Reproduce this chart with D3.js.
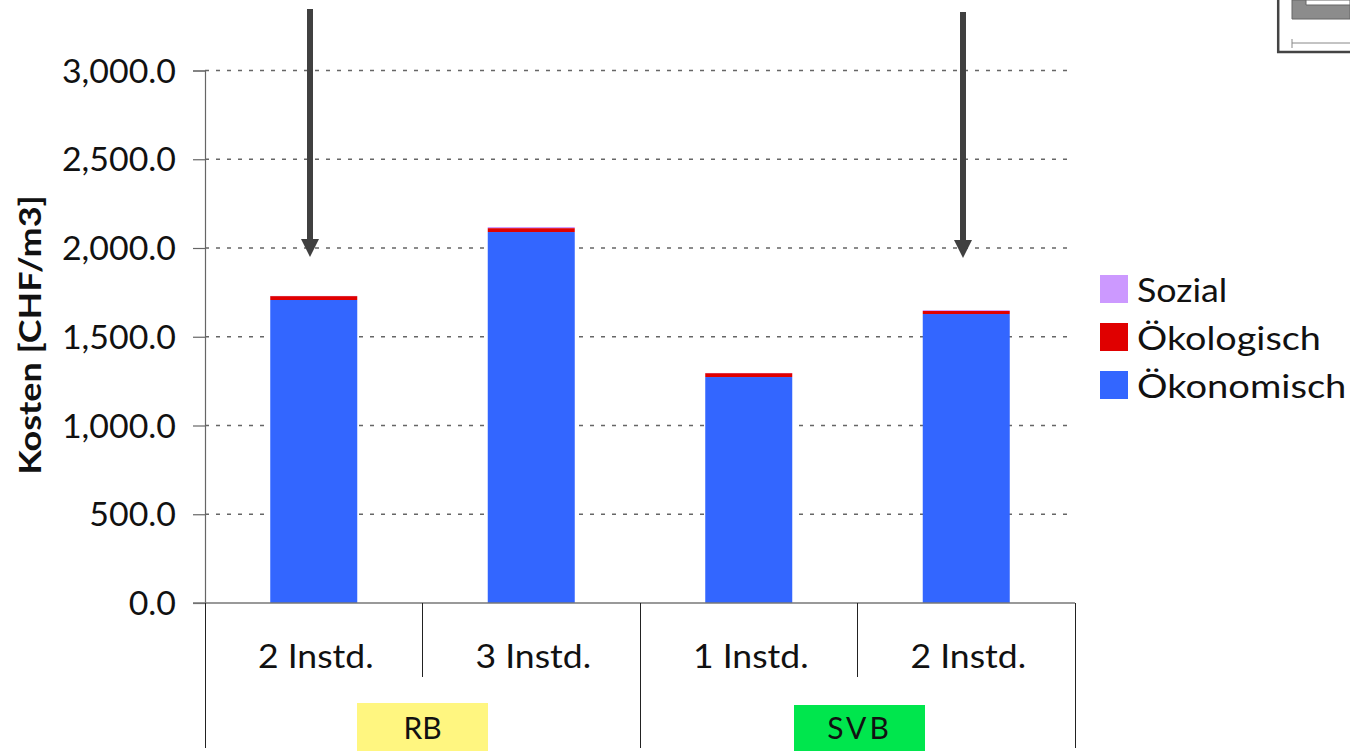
<!DOCTYPE html>
<html>
<head>
<meta charset="utf-8">
<script src="https://cdn.jsdelivr.net/npm/d3@7"></script>
<style>
  html, body { margin: 0; padding: 0; background: #fff; }
  svg { display: block; }
  text { font-family: Lato, "Open Sans", sans-serif; fill: #111; }
</style>
</head>
<body>
<svg id="chart"></svg>
<script>
const groups = ["RB", "SVB"];
const groupColors = ["#FFF680", "#00E64D"];
const categories = ["2 Instd.", "3 Instd.", "1 Instd.", "2 Instd."];
const oekonomisch = [1707, 2090, 1273, 1628];
const oekologisch = [22, 22, 22, 17];
const sozial = [1, 6, 1, 5];
const seriesNames = ["Sozial", "Ökologisch", "Ökonomisch"];
const seriesColors = ["#CC99FF", "#E00000", "#3366FF"];
const yTicks = [0, 500, 1000, 1500, 2000, 2500, 3000];
const arrowTargets = [0, 3];

const width = 1350, height = 751;
const margin = {top: 70.5, right: 275, bottom: 148, left: 205};
const plotW = width - margin.left - margin.right;
const plotH = height - margin.top - margin.bottom;

// the original face is wider than anything installed, so stretch text to its width
function stretch(sel, factor) {
    sel.each(function(d, i) {
        const f = typeof factor === "function" ? factor(d, i) : factor;
        const w = this.getComputedTextLength();
        d3.select(this).attr("textLength", w * f).attr("lengthAdjust", "spacingAndGlyphs");
    });
}

const svg = d3.select("#chart").attr("width", width).attr("height", height);
const chart = svg.append("g").attr("transform", `translate(${margin.left},${margin.top})`);

const x = d3.scaleBand().domain(d3.range(categories.length)).range([0, plotW]).paddingInner(0.6).paddingOuter(0.3);
const y = d3.scaleLinear().domain([0, 3000]).range([plotH, 0]);
const step = x.step();
const edge = i => i * step;
const fmt = d3.format(",.1f");

// gridlines
chart.selectAll(".grid").data(yTicks.slice(1)).join("line")
    .attr("class", "grid")
    .attr("x1", 0).attr("x2", plotW - 3)
    .attr("y1", d => y(d)).attr("y2", d => y(d))
    .attr("stroke", "#666").attr("stroke-width", 1.4).attr("stroke-dasharray", "4,7");

// stacked bars
const rows = categories.map((c, i) => ({i, "Ökonomisch": oekonomisch[i], "Ökologisch": oekologisch[i], "Sozial": sozial[i]}));
const stack = d3.stack().keys(["Ökonomisch", "Ökologisch", "Sozial"]);
const color = d3.scaleOrdinal().domain(seriesNames).range(seriesColors);

chart.selectAll(".layer").data(stack(rows)).join("g")
    .attr("class", "layer")
    .attr("fill", d => color(d.key))
    .selectAll("rect").data(d => d).join("rect")
    .attr("x", d => x(d.data.i))
    .attr("width", x.bandwidth())
    .attr("y", d => y(d[1]))
    .attr("height", d => y(d[0]) - y(d[1]));

// y axis
const yAxis = d3.axisLeft(y).tickValues(yTicks).tickSize(12).tickPadding(17).tickFormat(fmt);
chart.append("g").call(yAxis)
    .call(g => g.select(".domain").attr("stroke", "#666").attr("stroke-width", 1.2))
    .call(g => g.selectAll(".tick line").attr("stroke", "#666").attr("stroke-width", 1.2))
    .call(g => g.selectAll(".tick text")
        .attr("font-size", 32).attr("font-family", "Lato").attr("fill", "#111").attr("dy", "0.36em")
        .call(stretch, 1.06));

// baseline
chart.append("line")
    .attr("x1", -12).attr("x2", plotW).attr("y1", plotH).attr("y2", plotH)
    .attr("stroke", "#777").attr("stroke-width", 1.5);

// category separators
chart.selectAll(".sep").data(d3.range(categories.length + 1)).join("line")
    .attr("class", "sep")
    .attr("x1", edge).attr("x2", edge)
    .attr("y1", plotH)
    .attr("y2", d => d % 2 === 0 ? plotH + 145 : plotH + 74)
    .attr("stroke", "#222").attr("stroke-width", 1)
    .attr("shape-rendering", "crispEdges");

chart.selectAll(".cat").data(categories).join("text")
    .attr("class", "cat")
    .attr("x", (d, i) => edge(i) + step / 2 + 2)
    .attr("y", plotH + 65)
    .attr("text-anchor", "middle")
    .attr("font-size", 32)
    .text(d => d)
    .call(stretch, 1.11);

// group labels
const groupW = 131;
const groupG = chart.selectAll(".grp").data(groups).join("g").attr("class", "grp");
groupG.append("rect")
    .attr("x", (d, i) => edge(i * 2) + step - groupW / 2 + i * 2)
    .attr("y", (d, i) => plotH + 100 + i * 2)
    .attr("width", groupW)
    .attr("height", (d, i) => 48 - i * 2)
    .attr("fill", (d, i) => groupColors[i]);
groupG.append("text")
    .attr("x", (d, i) => edge(i * 2) + step + i * 2)
    .attr("y", plotH + 136)
    .attr("text-anchor", "middle")
    .attr("font-size", 30)
    .attr("letter-spacing", (d, i) => i ? 3 : 0)
    .text(d => d);

// y title
svg.append("text")
    .attr("transform", "translate(41,335) rotate(-90)")
    .attr("text-anchor", "middle")
    .attr("font-size", 31)
    .attr("font-weight", 700)
    .text("Kosten [CHF/m3]")
    .call(stretch, 1.16);

// legend
const legend = svg.selectAll(".legend").data(seriesNames).join("g")
    .attr("class", "legend")
    .attr("transform", (d, i) => `translate(1100,${275 + i * 48})`);
legend.append("rect").attr("width", 28).attr("height", 28).attr("fill", d => color(d));
legend.append("text").attr("x", 37).attr("y", 27).attr("font-size", 33).text(d => d)
    .call(stretch, (d, i) => [1.085, 1.145, 1.155][i]);

// arrows pointing at the two marked variants
const arrowTop = [9, 12], arrowTip = [257, 258], arrowX = [310, 963];
const arrows = svg.selectAll(".arrow").data(arrowTargets).join("g").attr("class", "arrow").attr("fill", "#404040");
arrows.append("path").attr("d", (d, i) => {
    const ax = arrowX[i], t = arrowTop[i], b = arrowTip[i];
    return d3.line()([[ax - 3, t], [ax + 3, t], [ax + 3, b - 18], [ax + 9, b - 18], [ax, b], [ax - 9, b - 18], [ax - 3, b - 18]]) + "Z";
});

// cropped inset drawing, top right
const inset = svg.append("g");
inset.append("path").attr("d", "M1278.2,0V52H1350").attr("fill", "none").attr("stroke", "#444").attr("stroke-width", 2.5);
inset.append("path").attr("d", "M1292,0H1350V19H1292Z").attr("fill", "#8c8c8c").attr("stroke", "#666");
inset.append("path").attr("d", "M1306,0H1350V5H1306Z").attr("fill", "#fff").attr("stroke", "#666");
inset.append("path").attr("d", "M1292,39V48M1292,43H1350").attr("fill", "none").attr("stroke", "#888").attr("stroke-width", 1);
</script>
</body>
</html>
